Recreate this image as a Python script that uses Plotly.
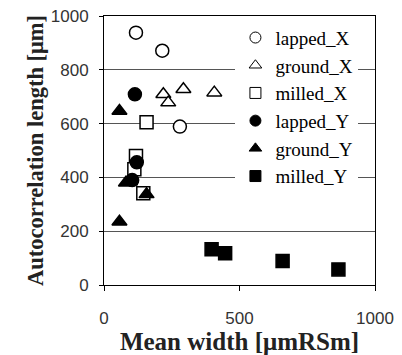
import plotly.graph_objects as go

lapped_X_x = [118, 215, 280]
lapped_X_y = [938, 871, 589]
ground_X_x = [219, 237, 293, 407]
ground_X_y = [709, 678, 728, 715]
milled_X_x = [157, 118, 112, 145]
milled_X_y = [605, 480, 430, 341]
lapped_Y_x = [114, 121, 104]
lapped_Y_y = [709, 456, 390]
ground_Y_x = [57, 57, 81, 96, 157]
ground_Y_y = [647, 235, 380, 385, 337]
milled_Y_x = [397, 447, 659, 865]
milled_Y_y = [133, 118, 89, 58]

series = [
    ("lapped_X", lapped_X_x, lapped_X_y, "circle", "white"),
    ("ground_X", ground_X_x, ground_X_y, "triangle-up", "white"),
    ("milled_X", milled_X_x, milled_X_y, "square", "white"),
    ("lapped_Y", lapped_Y_x, lapped_Y_y, "circle", "black"),
    ("ground_Y", ground_Y_x, ground_Y_y, "triangle-up", "black"),
    ("milled_Y", milled_Y_x, milled_Y_y, "square", "black"),
]

SERIF = "Times New Roman, Liberation Serif, serif"
SANS = "Arial, Liberation Sans, sans-serif"

fig = go.Figure()
for name, xs, ys, sym, fill in series:
    fig.add_trace(go.Scatter(
        x=xs, y=ys, mode="markers", name=name, showlegend=False,
        marker=dict(symbol=sym, size=13, color=fill,
                    line=dict(color="black", width=1.5)),
    ))
for name, xs, ys, sym, fill in series:
    fig.add_trace(go.Scatter(
        x=[None], y=[None], mode="markers", name=name,
        marker=dict(symbol=sym, size=11, color=fill,
                    line=dict(color="black", width=1)),
    ))

fig.update_layout(
    width=402, height=355,
    margin=dict(l=96, r=35, t=8, b=78),
    font=dict(family=SERIF, size=20, color="black"),
    paper_bgcolor="white", plot_bgcolor="white",
    showlegend=True,
    legend=dict(x=0.485, y=0.99, xanchor="left", yanchor="top",
                bgcolor="white", borderwidth=0,
                font=dict(family=SERIF, size=19, color="black"),
                tracegroupgap=0, itemwidth=30),
    xaxis=dict(range=[0, 1000], tickvals=[0, 500, 1000], automargin=False,
               showline=True, linecolor="black", linewidth=1, mirror=True,
               ticks="outside", ticklen=5, tickcolor="black",
               ticklabelstandoff=13, ticklabeloverflow="allow",
               showgrid=False, zeroline=False,
               tickfont=dict(family=SANS, size=17, color="#333333"),
               title=dict(text="<b>Mean width [μmRSm]</b>", standoff=0,
                          font=dict(family=SERIF, size=25, color="#222222"))),
    yaxis=dict(range=[0, 1000], tickvals=[0, 200, 400, 600, 800, 1000], automargin=False,
               showline=True, linecolor="black", linewidth=1, mirror=True,
               ticks="outside", ticklen=4, tickcolor="black",
               ticklabelstandoff=7, ticklabeloverflow="allow",
               showgrid=True, gridcolor="#555555", gridwidth=1, zeroline=False,
               tickfont=dict(family=SANS, size=17, color="#333333"),
               title=dict(text="<b>Autocorrelation length [μm]</b>", standoff=0,
                          font=dict(family=SERIF, size=22.5, color="#222222"))),
)

fig.write_html("out.html")
